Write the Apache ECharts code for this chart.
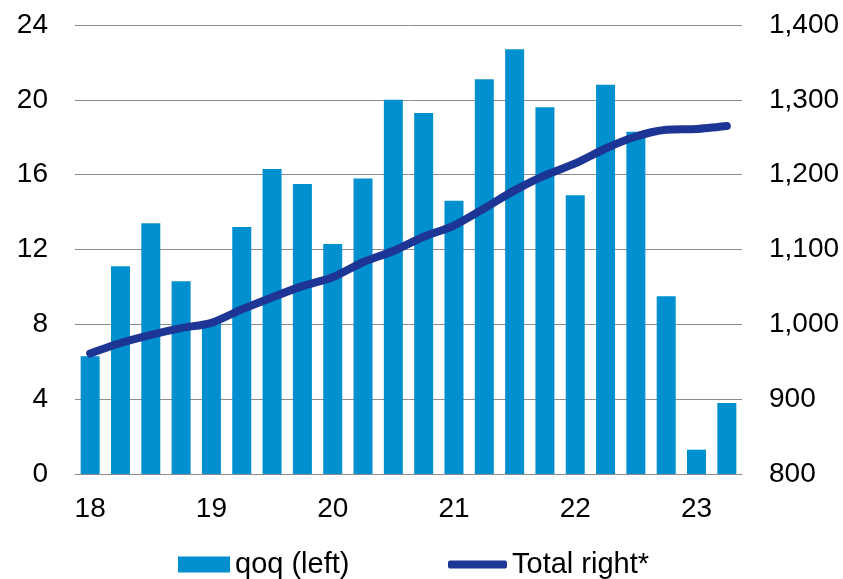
<!DOCTYPE html>
<html>
<head>
<meta charset="utf-8">
<script src="https://cdn.jsdelivr.net/npm/echarts@6/dist/echarts.min.js"></script>
<style>
  html, body { margin: 0; padding: 0; background: #fff; }
  #chart { width: 843px; height: 579px; }
</style>
</head>
<body>
<div id="chart"></div>
<script>
// Quarterly periods, 2018 Q1 to 2023 Q2
const quarters = [
  '18Q1','18Q2','18Q3','18Q4',
  '19Q1','19Q2','19Q3','19Q4',
  '20Q1','20Q2','20Q3','20Q4',
  '21Q1','21Q2','21Q3','21Q4',
  '22Q1','22Q2','22Q3','22Q4',
  '23Q1','23Q2'
];

// Quarter-on-quarter change (left axis)
const qoq = [
  6.3, 11.1, 13.4, 10.3,
  8.1, 13.2, 16.3, 15.5,
  12.3, 15.8, 20.0, 19.3,
  14.6, 21.1, 22.7, 19.6,
  14.9, 20.8, 18.3, 9.5,
  1.3, 3.8
];

// Running total (right axis)
const total = [
  961, 975, 986, 995,
  1002, 1020, 1036, 1051,
  1063, 1083, 1098, 1117,
  1132, 1155, 1179, 1199,
  1215, 1235, 1251, 1260,
  1261, 1265
];

const leftTicks = { min: 0, max: 24, interval: 4 };
const rightTicks = { min: 800, max: 1400, interval: 100 };

const font = 'Liberation Sans, Arial, sans-serif';
const barColor = '#0090d0';
const lineColor = '#1d3594';
const labelStyle = { fontFamily: font, fontSize: 28, color: '#000' };
const legendText = { fontFamily: font, fontSize: 29, color: '#000' };

const chart = echarts.init(document.getElementById('chart'));

chart.setOption({
  animation: false,
  grid: { left: 75, right: 101, top: 25, bottom: 105 },
  legend: [
    {
      top: 550,
      left: 178,
      padding: 0,
      itemWidth: 52,
      itemHeight: 16,
      textStyle: legendText,
      data: [{ name: 'qoq (left)', icon: 'rect' }]
    },
    {
      top: 550,
      left: 448,
      padding: 0,
      itemWidth: 59,
      itemHeight: 8,
      textStyle: legendText,
      data: [{ name: 'Total right*', icon: 'roundRect', itemStyle: { color: lineColor } }]
    }
  ],
  xAxis: {
    type: 'category',
    data: quarters,
    boundaryGap: true,
    axisLine: { show: true, lineStyle: { color: '#8c8c8c', width: 1 } },
    axisTick: { show: false },
    axisLabel: Object.assign({
      interval: (i, v) => v.endsWith('Q1'),
      formatter: v => v.slice(0, 2),
      margin: 21
    }, labelStyle)
  },
  yAxis: [
    {
      type: 'value',
      min: leftTicks.min, max: leftTicks.max, interval: leftTicks.interval,
      axisLine: { show: false },
      axisTick: { show: false },
      splitLine: { lineStyle: { color: '#8c8c8c', width: 1 } },
      axisLabel: Object.assign({ margin: 27 }, labelStyle)
    },
    {
      type: 'value',
      position: 'right',
      min: rightTicks.min, max: rightTicks.max, interval: rightTicks.interval,
      axisLine: { show: false },
      axisTick: { show: false },
      splitLine: { show: false },
      axisLabel: Object.assign({
        margin: 27,
        formatter: v => v.toLocaleString('en-US')
      }, labelStyle)
    }
  ],
  series: [
    {
      name: 'qoq (left)',
      type: 'bar',
      yAxisIndex: 0,
      data: qoq,
      barWidth: 19,
      itemStyle: { color: barColor }
    },
    {
      name: 'Total right*',
      type: 'line',
      yAxisIndex: 1,
      data: total,
      smooth: 0.25,
      symbol: 'none',
      lineStyle: { color: lineColor, width: 8, cap: 'round', join: 'round' },
      itemStyle: { color: lineColor }
    }
  ]
});
</script>
</body>
</html>
